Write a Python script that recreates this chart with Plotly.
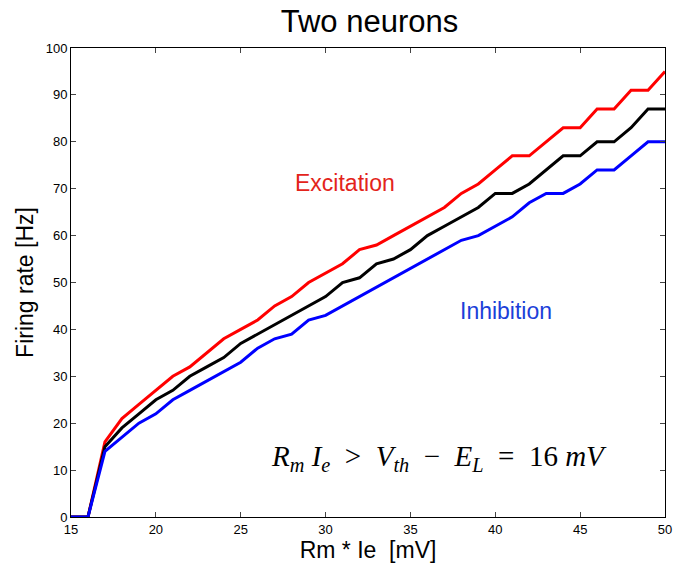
import plotly.graph_objects as go

x_vals = list(range(15, 51))
excitation = [0, 0, 16, 21, 24, 27, 30, 32, 35, 38, 40, 42, 45, 47, 50, 52, 54, 57, 58, 60,
              62, 64, 66, 69, 71, 74, 77, 77, 80, 83, 83, 87, 87, 91, 91, 95]
control = [0, 0, 15, 19, 22, 25, 27, 30, 32, 34, 37, 39, 41, 43, 45, 47, 50, 51, 54, 55,
           57, 60, 62, 64, 66, 69, 69, 71, 74, 77, 77, 80, 80, 83, 87, 87]
inhibition = [0, 0, 14, 17, 20, 22, 25, 27, 29, 31, 33, 36, 38, 39, 42, 43, 45, 47, 49, 51,
              53, 55, 57, 59, 60, 62, 64, 67, 69, 69, 71, 74, 74, 77, 80, 80]
x_ticks = [15, 20, 25, 30, 35, 40, 45, 50]
y_ticks = [0, 10, 20, 30, 40, 50, 60, 70, 80, 90, 100]

fig = go.Figure()
fig.add_trace(go.Scatter(x=x_vals, y=excitation, mode="lines",
                         line=dict(color="#ff0000", width=3), showlegend=False))
fig.add_trace(go.Scatter(x=x_vals, y=control, mode="lines",
                         line=dict(color="#000000", width=3), showlegend=False))
fig.add_trace(go.Scatter(x=x_vals, y=inhibition, mode="lines",
                         line=dict(color="#0000ff", width=3), showlegend=False))

font = "Liberation Sans, Arial, sans-serif"
fig.update_layout(
    width=673, height=565,
    margin=dict(l=71, r=8, t=48, b=48, autoexpand=False),
    paper_bgcolor="white", plot_bgcolor="white",
    font=dict(family=font, color="black"),
    title=dict(text="Two neurons", x=0.549, xanchor="center", y=0.962, yanchor="middle",
               font=dict(size=31, family=font, color="black")),
    xaxis=dict(range=[15, 50], tickvals=x_ticks, ticks="inside", ticklen=5,
               showgrid=False, zeroline=False, showline=True, linecolor="black",
               linewidth=1, mirror="ticks", tickfont=dict(size=13), automargin=False,
               title=dict(text="Rm * Ie  [mV]", font=dict(size=23), standoff=4)),
    yaxis=dict(range=[0, 100], tickvals=y_ticks, ticks="inside", ticklen=5,
               showgrid=False, zeroline=False, showline=True, linecolor="black",
               linewidth=1, mirror="ticks", tickfont=dict(size=13), automargin=False,
               title=dict(text="Firing rate [Hz]", font=dict(size=23), standoff=5)),
)

fig.add_annotation(x=0.462, y=0.713, xref="paper", yref="paper", text="Excitation",
                   xanchor="center", yanchor="middle",
                   showarrow=False, font=dict(size=23, color="#e3241b", family=font))
fig.add_annotation(x=0.732, y=0.44, xref="paper", yref="paper", text="Inhibition",
                   xanchor="center", yanchor="middle",
                   showarrow=False, font=dict(size=23, color="#1c3fd9", family=font))
fig.add_annotation(
    x=0.62, y=0.125, xref="paper", yref="paper", showarrow=False,
    xanchor="center", yanchor="middle",
    text=("<i>R<sub>m</sub></i> <i>I<sub>e</sub></i>&nbsp; &gt; &nbsp;<i>V<sub>th</sub></i>"
          "&nbsp; − &nbsp;<i>E<sub>L</sub></i>&nbsp; = &nbsp;16 <i>mV</i>"),
    font=dict(size=29, color="black", family="Liberation Serif, Times New Roman, serif"))

fig.write_html("out.html")
